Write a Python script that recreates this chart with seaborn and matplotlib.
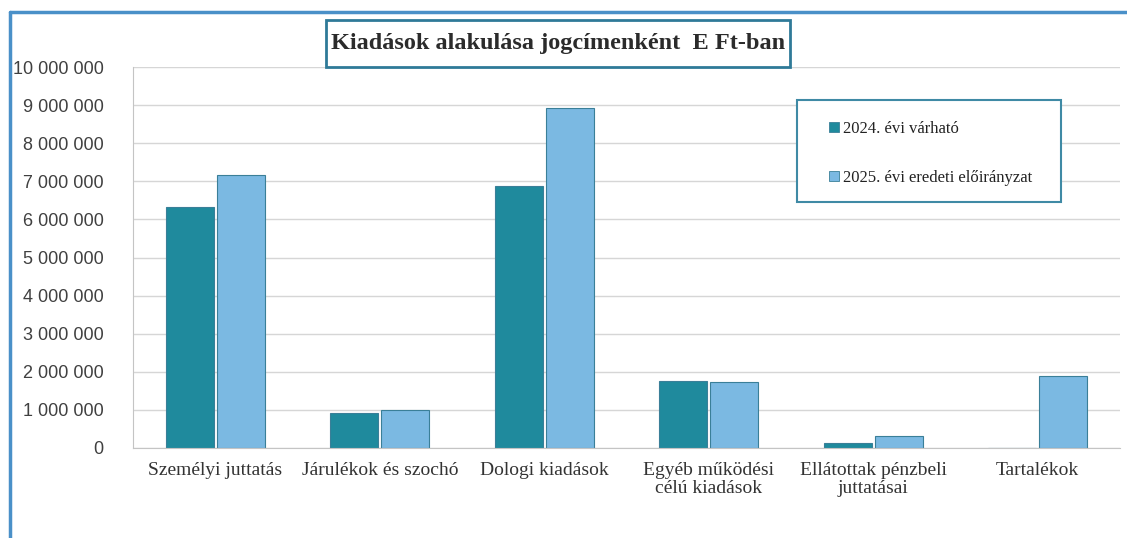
import matplotlib
matplotlib.use("Agg")
import matplotlib.pyplot as plt
import matplotlib.patches as mpatches
from matplotlib.ticker import FuncFormatter, MultipleLocator
import pandas as pd
import seaborn as sns

# Data (E Ft)
categories = ["Személyi juttatás", "Járulékok és szochó", "Dologi kiadások",
              "Egyéb működési\ncélú kiadások", "Ellátottak pénzbeli\njuttatásai", "Tartalékok"]
series_names = ["2024. évi várható", "2025. évi eredeti előirányzat"]
values_2024 = [6330000, 920000, 6880000, 1760000, 130000, 0]
values_2025 = [7170000, 1000000, 8920000, 1720000, 310000, 1890000]
yticks = list(range(0, 10000001, 1000000))

colors = ["#1f8a9d", "#7bb9e2"]

df = pd.DataFrame({
    "Kategória": categories * 2,
    "Sorozat": [series_names[0]] * 6 + [series_names[1]] * 6,
    "Érték": values_2024 + values_2025,
})

W, H = 1127, 538


def fx(px):
    return px / W


def fy(py):
    return 1 - py / H


sns.set_style("white")
fig = plt.figure(figsize=(11.27, 5.38), dpi=100)
ax = fig.add_axes([fx(133), fy(448), (1120 - 133) / W, (448 - 67) / H])

sns.barplot(data=df, x="Kategória", y="Érték", hue="Sorozat", palette=colors,
            saturation=1, width=0.62, gap=0.06, edgecolor="#3a7f98", linewidth=0.8,
            legend=False, ax=ax)

ax.set_ylim(0, 10000000)
ax.set_yticks(yticks)
ax.yaxis.set_minor_locator(MultipleLocator(200000))
ax.yaxis.set_major_formatter(FuncFormatter(lambda v, p: f"{int(v):,}".replace(",", " ")))
ax.grid(axis="y", color="#d6d6d6", linewidth=1.0)
ax.set_axisbelow(True)
ax.set_xlabel("")
ax.set_ylabel("")

for s in ["top", "right"]:
    ax.spines[s].set_visible(False)
ax.spines["left"].set_color("#c4c4c4")
ax.spines["bottom"].set_color("#c4c4c4")

ax.tick_params(axis="y", which="major", length=4, color="#c4c4c4", pad=17,
               labelsize=13, labelcolor="#404040")
ax.tick_params(axis="y", which="minor", length=3, color="#d0d0d0")
ax.tick_params(axis="x", length=0, pad=10)
for lbl in ax.get_yticklabels():
    lbl.set_fontfamily("Liberation Sans")
for lbl in ax.get_xticklabels():
    lbl.set_fontfamily("Liberation Serif")
    lbl.set_fontsize(14)
    lbl.set_color("#333333")
    lbl.set_linespacing(1.05)

# Legend: entries without frame, frame drawn as its own box
handles = [mpatches.Patch(facecolor=c, edgecolor="#3a7f98", linewidth=0.6) for c in colors]
leg = fig.legend(handles, series_names, loc="upper left",
                 bbox_to_anchor=(fx(829), fy(121)),
                 prop={"family": "Liberation Serif", "size": 12},
                 handlelength=0.6, handleheight=0.6, handletextpad=0.25,
                 labelspacing=1.98, borderpad=0, borderaxespad=0,
                 frameon=False)
for t in leg.get_texts():
    t.set_color("#222222")
fig.patches.append(mpatches.Rectangle((fx(797), fy(202)), fx(1061) - fx(797), fy(100) - fy(202),
                                      transform=fig.transFigure, facecolor="white",
                                      edgecolor="#3f8aa5", linewidth=1.5, zorder=2))
leg.set_zorder(3)

# Title in a box
fig.patches.append(mpatches.Rectangle((fx(326), fy(67)), fx(790) - fx(326), fy(20) - fy(67),
                                      transform=fig.transFigure, facecolor="white",
                                      edgecolor="#2f7a98", linewidth=2, zorder=2))
fig.text(fx(558), fy(44), "Kiadások alakulása jogcímenként  E Ft-ban",
         ha="center", va="center", fontsize=17.5, fontweight="bold",
         family="Liberation Serif", color="#2b2b2b", zorder=3)

# Outer frame (left and top edges visible)
fig.add_artist(plt.Line2D([fx(10), fx(10)], [0, fy(12)],
                          transform=fig.transFigure, color="#4a90c8", linewidth=2.5))
fig.add_artist(plt.Line2D([fx(10), 1], [fy(12), fy(12)],
                          transform=fig.transFigure, color="#4a90c8", linewidth=2.5))

fig.savefig("out.png", dpi=100)
